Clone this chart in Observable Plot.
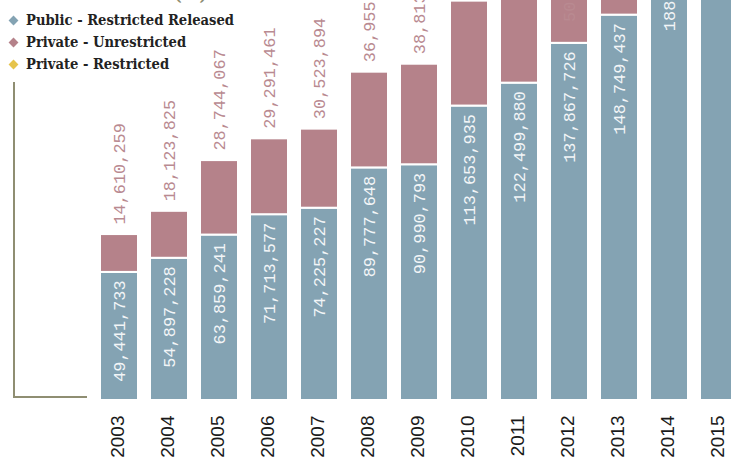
<!DOCTYPE html>
<html>
<head>
<meta charset="utf-8">
<script src="https://cdn.jsdelivr.net/npm/d3@7"></script>
<script src="https://cdn.jsdelivr.net/npm/@observablehq/plot@0.6"></script>
<style>
  html, body { margin: 0; padding: 0; background: #fff; overflow: hidden; }
  #wrap { position: relative; width: 731px; height: 465px; overflow: hidden; }
  #title { position: absolute; left: -8px; top: -16px; font: bold 18px "DejaVu Serif Condensed", "DejaVu Serif", serif; color: #8f8e72; white-space: nowrap; line-height: 20px; }
  #legend { position: absolute; left: 8px; top: 9px; font: bold 14.6px "DejaVu Serif Condensed", "DejaVu Serif", serif; color: #222; }
  #legend .item { height: 22px; line-height: 22px; display: flex; align-items: center; white-space: nowrap; }
  #legend .sw { width: 7px; height: 7px; transform: rotate(45deg); margin: 0 9px 0 2px; }
  #frame { position: absolute; left: 13px; top: 82px; width: 72px; height: 314px; border-left: 2px solid #8f8e72; border-bottom: 2px solid #8f8e72; }
  #chart { position: absolute; left: 0; top: 0; width: 750px; height: 465px; }
  #chart svg { max-width: none !important; }
</style>
</head>
<body>
<div id="wrap">
  <div id="title">Number of Records (M)</div>
  <div id="frame"></div>
  <div id="chart"></div>
  <div id="legend"></div>
</div>
<script>
// ---- data ----
const years = ["2003","2004","2005","2006","2007","2008","2009","2010","2011","2012","2013","2014","2015"];
const publicRestrictedReleased = [49441733, 54897228, 63859241, 71713577, 74225227, 89777648, 90990793, 113653935, 122499880, 137867726, 148749437, 188700000, 210000000];
const privateUnrestricted = [14610259, 18123825, 28744067, 29291461, 30523894, 36955000, 38813000, 40500000, 41500000, 50500000, 53000000, 55000000, 58000000];
const privateRestricted = [null, null, null, null, null, null, null, null, null, null, null, 4000000, 6000000];
const seriesNames = ["Public - Restricted Released", "Private - Unrestricted", "Private - Restricted"];
const seriesColors = ["#84a3b3", "#b5828a", "#e6c44c"];
const labelColors = ["#f2f5f7", "#b98a91", "#d9b840"];

// ---- layout ----
const W = 750, H = 465, mL = 94, mR = 6, mT = 0, mB = 65;
const yMax = 154.4e6;
const labelFont = "Liberation Mono, DejaVu Sans Mono, monospace";
const labelSize = 16.9;
const pxPerUnit = (H - mT - mB) / yMax;
const fmt = d3.format(",");

const seriesValues = [publicRestrictedReleased, privateUnrestricted, privateRestricted];
const rows = [];
years.forEach((yr, i) => {
  let cum = 0;
  seriesNames.forEach((s, j) => {
    const v = seriesValues[j][i];
    if (v == null) return;
    const label = fmt(v);
    const inside = v * pxPerUnit > label.length * 0.6 * labelSize + 16;
    rows.push({year: yr, series: s, si: j, v, y1: cum, y2: cum + v, label, inside});
    cum += v;
  });
});

const chart = Plot.plot({
  width: W, height: H,
  marginLeft: mL, marginRight: mR, marginTop: mT, marginBottom: mB,
  style: {overflow: "hidden", maxWidth: "none", fontFamily: "Liberation Sans, Arial, sans-serif", fontSize: "19px", color: "#1a1a1a", background: "transparent"},
  x: {domain: years, paddingInner: 0.24, paddingOuter: 0.12, label: null},
  y: {domain: [0, yMax], axis: null},
  color: {domain: seriesNames, range: seriesColors},
  marks: [
    Plot.barY(rows, {x: "year", y1: "y1", y2: "y2", fill: "series", stroke: "white", strokeWidth: 2}),
    Plot.text(rows.filter(d => d.inside), {x: "year", y: "y2", text: "label", rotate: -90, textAnchor: "end", dy: 8,
      fill: d => labelColors[d.si], fontFamily: labelFont, fontSize: labelSize}),
    Plot.text(rows.filter(d => !d.inside), {x: "year", y: "y2", text: "label", rotate: -90, textAnchor: "start", dy: -10,
      fill: d => labelColors[d.si], fontFamily: labelFont, fontSize: labelSize}),
    Plot.axisX({tickRotate: -90, tickSize: 0, tickPadding: 15, dx: -2, label: null, fontSize: 19,
      fontFamily: "Liberation Sans, Arial, sans-serif", fill: "#1a1a1a"})
  ]
});
chart.style.maxWidth = "none";
chart.style.width = W + "px";
chart.style.height = H + "px";
document.getElementById("chart").appendChild(chart);

const legend = document.getElementById("legend");
seriesNames.forEach((s, j) => {
  const it = document.createElement("div");
  it.className = "item";
  const sw = document.createElement("span");
  sw.className = "sw";
  sw.style.background = seriesColors[j];
  const tx = document.createElement("span");
  tx.textContent = s;
  it.appendChild(sw); it.appendChild(tx);
  legend.appendChild(it);
});
</script>
</body>
</html>
